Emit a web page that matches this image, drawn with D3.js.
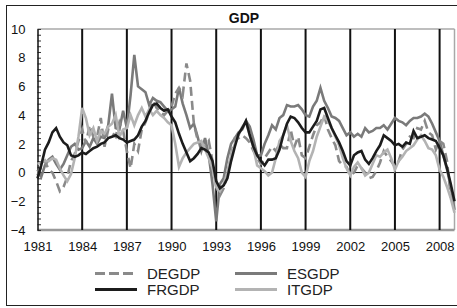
<!DOCTYPE html>
<html>
<head>
<meta charset="utf-8">
<script src="https://cdn.jsdelivr.net/npm/d3@7"></script>
<style>
  html, body { margin: 0; padding: 0; background: #fff; }
  svg { display: block; font-family: "Liberation Sans", Arial, sans-serif; }
</style>
</head>
<body>
<svg id="chart" width="457" height="308"></svg>
<script>
// ---- data (quarterly, year-on-year growth %, 1981Q1 .. 2009Q1) ----
const startYear = 1981;
const xTickYears = [1981, 1984, 1987, 1990, 1993, 1996, 1999, 2002, 2005, 2008];
const yTickValues = [-4, -2, 0, 2, 4, 6, 8, 10];
const seriesNames = ["DEGDP", "ESGDP", "FRGDP", "ITGDP"];

const DEGDP = [
  -0.2, 0.4, 0.8, 0.2,
  0.0, -0.6, -1.3, -1.0,
  -0.3, 0.8, 1.3, 2.2,
  3.0, 2.0, 3.3, 2.5,
  2.5, 3.8, 1.8, 3.0,
  2.8, 2.5, 3.5, 2.9,
  1.5, 0.3, 2.0, 1.5,
  3.0, 3.5, 4.2, 5.0,
  4.5, 4.2, 4.0, 4.3,
  4.6, 5.5, 5.9, 5.4,
  7.6, 6.4, 3.4, 2.3,
  2.0, 1.8, 2.2, 0.8,
  -1.0, -1.6, -1.1, -0.2,
  1.2, 2.4, 2.4, 2.6,
  2.4, 2.1, 1.5, 1.0,
  0.6, 1.0, 1.4, 1.8,
  1.5, 2.0, 1.7, 1.7,
  3.0, 1.8, 2.5, 1.2,
  1.0, 1.8, 2.6, 3.3,
  3.5, 4.0, 3.0, 2.4,
  1.9, 0.8, 0.5, 0.4,
  -0.2, 0.0, 0.5, 0.3,
  0.0, -0.4, -0.3, 0.1,
  0.7, 1.5, 1.1, 0.8,
  0.4, 0.8, 1.6, 2.0,
  2.5, 2.4, 3.1, 3.0,
  3.6, 2.8, 2.6, 1.6,
  2.2, 2.0, 0.8, -1.7,
  -2.0
];

const ESGDP = [
  0.2, -0.3, 0.5, 0.9,
  1.1, 0.6, 0.2, 0.6,
  1.2, 1.8, 2.0, 1.6,
  1.7, 2.2, 1.8, 2.4,
  2.0, 2.5, 2.4, 3.3,
  5.5, 3.1, 3.0, 4.3,
  3.1, 5.4, 8.2, 6.0,
  5.8, 5.6, 4.7, 5.2,
  5.0, 4.9, 4.6, 4.3,
  4.4, 4.6, 5.9, 4.8,
  4.0, 3.1, 3.4, 2.5,
  1.5, 2.4, 1.2, -0.8,
  -3.4, -0.8, -0.4, 1.0,
  2.0, 2.4, 2.8, 3.0,
  3.6, 3.2, 2.3, 1.2,
  1.2, 2.0, 2.6, 3.3,
  3.0, 3.8, 4.0, 4.7,
  4.6, 4.6, 4.7, 4.4,
  4.0, 3.9, 4.6, 5.0,
  5.9, 5.0, 4.5, 3.9,
  3.8, 3.6, 3.1, 2.6,
  2.8, 2.5, 2.7, 2.5,
  3.1, 2.8, 2.9, 3.1,
  3.1, 3.3, 3.0, 3.4,
  3.8, 3.6, 3.5, 3.3,
  3.6, 3.8, 3.8, 3.9,
  4.1, 3.9, 3.4, 2.8,
  2.2, 1.2, 0.2, -1.0,
  -2.6
];

const FRGDP = [
  -0.4, 0.5, 1.6, 2.1,
  2.8, 3.1, 2.5, 2.1,
  1.9, 1.2, 1.1, 1.2,
  1.4, 1.3, 1.5, 1.7,
  1.8, 2.0, 2.1, 2.4,
  2.5, 2.6, 2.4, 2.3,
  2.1, 2.2, 2.3, 2.6,
  3.2, 3.6, 4.2, 4.7,
  4.8, 4.5, 4.3, 4.4,
  3.9, 3.5, 2.7, 2.0,
  1.4, 0.8, 1.0, 1.3,
  1.7, 1.6, 1.4, 0.8,
  -0.6, -1.1, -0.9, -0.4,
  0.8, 1.8, 2.7, 3.1,
  3.6, 2.6, 1.8, 1.2,
  0.8, 0.5, 0.9, 0.9,
  1.0, 1.6, 2.6, 3.4,
  3.9, 3.8, 3.5, 3.1,
  2.8, 2.8, 3.2, 3.6,
  4.4, 4.5, 3.8, 3.1,
  2.6, 2.1, 1.5, 0.8,
  0.5, 1.2, 1.4, 1.5,
  0.9, 0.6, 1.0, 1.5,
  1.9, 2.6, 2.4, 2.2,
  1.9, 2.0, 1.8, 2.1,
  2.0, 2.9, 2.4, 2.5,
  2.6, 2.4, 2.3, 2.2,
  1.7, 1.2, 0.3, -0.8,
  -2.0
];

const ITGDP = [
  0.6, 0.7, 0.8, 0.8,
  1.0, 0.9, 0.3, -0.2,
  -0.6, -0.1, 1.0, 2.5,
  4.5, 3.8, 2.6, 3.1,
  2.2, 2.9, 2.7, 3.2,
  3.4, 4.0, 2.5, 3.0,
  3.1, 4.0, 3.3, 4.0,
  4.5, 3.9, 4.4, 4.0,
  4.3, 4.0, 3.8, 3.5,
  3.3, 2.0, 0.4, 1.0,
  1.4, 1.7, 2.0, 2.1,
  2.2, 1.6, 1.0, 0.3,
  -1.0, -1.3, -0.8, 0.0,
  1.2, 2.0, 2.6, 3.2,
  3.5, 2.6, 1.7, 0.5,
  0.3, 0.1, -0.2, 0.0,
  1.0, 2.2, 2.6, 3.3,
  2.2, 1.5, 1.0, 0.0,
  -0.3, 0.8, 1.5, 2.5,
  3.2, 3.9, 3.6, 3.1,
  2.5, 1.9, 1.0, 0.3,
  -0.2, 0.4, 0.7, 0.3,
  -0.2, 0.0, 0.6, 1.2,
  1.1, 1.4, 1.6, 1.0,
  0.2, 0.8, 1.1, 1.5,
  1.7, 1.9, 2.3, 2.6,
  2.2, 1.7, 1.6, 1.2,
  0.2, -0.3, -1.0, -1.8,
  -2.8
];

// ---- layout ----
const svg = d3.select("#chart");
const plot = { left: 37.5, right: 454.5, top: 29, bottom: 230 };

const x = d3.scaleLinear().domain([1981, 2009]).range([plot.left, plot.right]);
const y = d3.scaleLinear().domain([-4, 10]).range([plot.bottom, plot.top]);

// outer frame
svg.append("rect")
  .attr("x", 6.5).attr("y", 5.5).attr("width", 452).attr("height", 300)
  .attr("fill", "none").attr("stroke", "#222").attr("stroke-width", 1);

// title
svg.append("text")
  .attr("x", 244).attr("y", 23)
  .attr("text-anchor", "middle")
  .attr("font-size", 14).attr("font-weight", "bold").attr("fill", "#111")
  .text("GDP");

// plot border (grey): top, right, bottom
svg.append("line").attr("x1", plot.left).attr("x2", plot.right)
  .attr("y1", plot.top).attr("y2", plot.top)
  .attr("stroke", "#a8a8a8").attr("stroke-width", 1.5);
svg.append("line").attr("x1", plot.right).attr("x2", plot.right)
  .attr("y1", plot.top).attr("y2", plot.bottom)
  .attr("stroke", "#a8a8a8").attr("stroke-width", 1.5);
svg.append("line").attr("x1", plot.left).attr("x2", plot.right)
  .attr("y1", plot.bottom).attr("y2", plot.bottom)
  .attr("stroke", "#999").attr("stroke-width", 2.5);

// vertical year lines
svg.append("g").selectAll("line")
  .data(xTickYears.filter(d => d > 1981))
  .join("line")
  .attr("x1", d => x(d)).attr("x2", d => x(d))
  .attr("y1", plot.top).attr("y2", plot.bottom)
  .attr("stroke", "#111").attr("stroke-width", 2);

// zero line
svg.append("line").attr("x1", plot.left).attr("x2", plot.right)
  .attr("y1", y(0)).attr("y2", y(0))
  .attr("stroke", "#111").attr("stroke-width", 1);

// y axis (ticks inward)
const yAxisMinor = d3.axisRight(y).tickValues(d3.range(-4, 10.01, 0.4)).tickSize(3.5).tickFormat("");
const gMinor = svg.append("g").attr("transform", `translate(${plot.left},0)`).call(yAxisMinor);
gMinor.select(".domain").remove();
gMinor.selectAll("line").attr("stroke", "#333").attr("stroke-width", 1);

const yAxis = d3.axisLeft(y).tickValues(yTickValues).tickSize(0).tickPadding(12);
const gY = svg.append("g").attr("transform", `translate(${plot.left},0)`).call(yAxis);
gY.select(".domain").attr("stroke", "#111").attr("stroke-width", 1.5);
gY.selectAll("text").attr("font-size", 13).attr("fill", "#111")
  .attr("font-family", "Liberation Sans, Arial, sans-serif");

// x axis labels
const xAxis = d3.axisBottom(x).tickValues(xTickYears).tickSize(0).tickPadding(12).tickFormat(d3.format("d"));
const gX = svg.append("g").attr("transform", `translate(0,${plot.bottom})`).call(xAxis);
gX.select(".domain").remove();
gX.selectAll("text").attr("font-size", 13).attr("fill", "#111")
  .attr("font-family", "Liberation Sans, Arial, sans-serif");

// series
const styles = {
  DEGDP: { color: "#8a8a8a", dash: "9,5", width: 2.6 },
  ESGDP: { color: "#7a7a7a", dash: null, width: 2.6 },
  FRGDP: { color: "#1c1c1c", dash: null, width: 2.6 },
  ITGDP: { color: "#b3b3b3", dash: null, width: 2.6 }
};
const dataMap = { DEGDP, ESGDP, FRGDP, ITGDP };

const line = d3.line()
  .x((d, i) => x(startYear + i / 4))
  .y(d => y(d));

const drawOrder = ["ESGDP", "DEGDP", "ITGDP", "FRGDP"];
drawOrder.forEach(name => {
  const s = styles[name];
  svg.append("path")
    .datum(dataMap[name])
    .attr("d", line)
    .attr("fill", "none")
    .attr("stroke", s.color)
    .attr("stroke-width", s.width)
    .attr("stroke-linejoin", "miter")
    .attr("stroke-dasharray", s.dash);
});

// legend
const legendPos = [
  { name: "DEGDP", lx: 95, ly: 273.5 },
  { name: "ESGDP", lx: 235, ly: 273.5 },
  { name: "FRGDP", lx: 95, ly: 289.5 },
  { name: "ITGDP", lx: 235, ly: 289.5 }
];
const lg = svg.append("g").selectAll("g").data(legendPos).join("g");
lg.append("line")
  .attr("x1", d => d.lx).attr("x2", d => d.lx + 42)
  .attr("y1", d => d.ly).attr("y2", d => d.ly)
  .attr("stroke", d => styles[d.name].color)
  .attr("stroke-width", 2.8)
  .attr("stroke-dasharray", d => styles[d.name].dash ? "10,4" : null);
lg.append("text")
  .attr("x", d => d.lx + 52).attr("y", d => d.ly + 5.5)
  .attr("font-size", 15).attr("fill", "#222")
  .text(d => d.name);
</script>
</body>
</html>
